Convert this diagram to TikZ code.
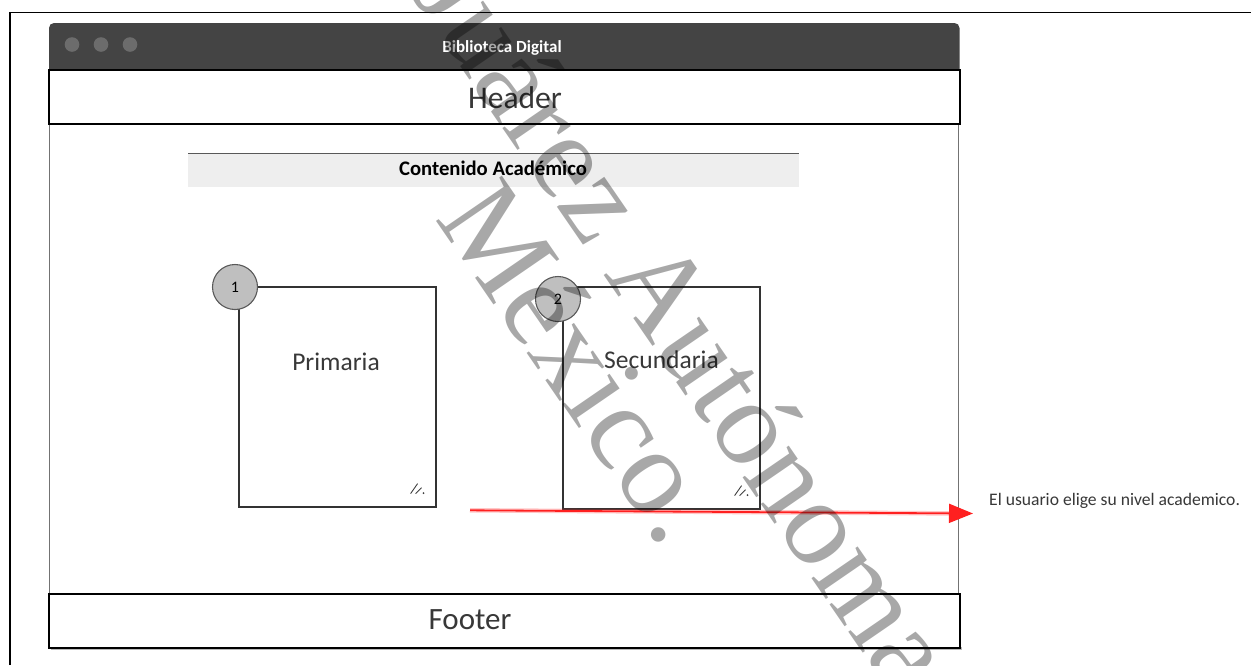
\documentclass[tikz,border=0pt]{standalone}
\usepackage{fontspec}
\setmainfont{Carlito}
\newfontfamily\wmfont{Liberation Serif}
\usetikzlibrary{arrows.meta,calc}
\definecolor{titlebar}{HTML}{444444}
\definecolor{titledot}{HTML}{6C6C6C}
\definecolor{inktext}{HTML}{383838}
\definecolor{bandfill}{HTML}{EEEEEE}
\definecolor{badgefill}{HTML}{BFBFBF}
\definecolor{flowred}{HTML}{FF2020}
\tikzset{
  frameline/.style={line width=1.6pt, draw=black},
  winbody/.style={draw=black!55, line width=1.1pt},
  bandbox/.style={draw=black, line width=1.1pt, fill=white, minimum width=911pt,
    minimum height=54pt, inner sep=0pt},
  cardbox/.style={draw=black!80, line width=1.2pt, fill=white, minimum width=197pt,
    inner sep=0pt},
  badge/.style={circle, draw=black!65, line width=1.1pt, fill=badgefill,
    minimum size=45pt, inner sep=0pt, font=\fontsize{16}{16}\selectfont},
  bigtext/.style={anchor=base, text=inktext, inner sep=0pt, font=\fontsize{31.5}{31.5}\selectfont},
  cardtext/.style={anchor=base, text=inktext, inner sep=0pt, font=\fontsize{25.5}{25.5}\selectfont},
  grip/.style={draw=black!75, line width=0.9pt},
  watermark/.style={anchor=base, rotate=-55.5, text=black, text opacity=0.34, inner sep=0pt,
    font=\wmfont\fontsize{122}{122}\selectfont},
}
\begin{document}
\begin{tikzpicture}[x=1pt,y=-1pt]
\useasboundingbox (0,0) rectangle (1251,665);
\fill[white] (0,0) rectangle (1251,665);

% page frame (only top and left edges fall inside)
\draw[frameline] (10,665) -- (10,12.3) -- (1251,12.3);

% window title bar
\fill[titlebar, rounded corners=5pt] (49,23) rectangle (959.5,80);
\foreach \dx in {72,101,130} \fill[titledot] (\dx,44.5) circle (7.3);
\node[anchor=base, text=white, inner sep=0pt, font=\bfseries\fontsize{17}{17}\selectfont]
  (title) at (502,52.3) {Biblioteca Digital};

% window body
\draw[winbody] (49.5,124) -- (49.5,594) (958.5,124) -- (958.5,594);

% header band
\node[bandbox] (header) at (504.5,97) {};
\node[bigtext] (headertxt) at (515,108.8) {Header};

% footer band with a light drop shadow
\fill[black!28] (51,647) rectangle (961.5,650);
\node[bandbox] (footer) at (504.5,621) {};
\node[bigtext, font=\fontsize{31}{31}\selectfont] (footertxt) at (470,629.5) {Footer};

% section heading bar
\fill[bandfill] (188,153) rectangle (799,187);
\draw[draw=black!65, line width=1.8pt] (188,153.5) -- (799,153.5);
\node[anchor=base, text=black, inner sep=0pt, font=\bfseries\fontsize{20.7}{20.7}\selectfont]
  (section) at (493,175.5) {Contenido Académico};

% level cards
\node[cardbox, minimum height=220pt] (primaria) at (337.5,397) {};
\node[cardbox, minimum height=222pt] (secundaria) at (661.5,398) {};
\node[cardtext] (primtxt) at (336,370) {Primaria};
\node[cardtext] (sectxt) at (661.5,368.5) {Secundaria};

% resize grips
\foreach \c in {primaria,secundaria}{
  \draw[grip] ([shift={(-26,-14)}]\c.south east) -- ([shift={(-19,-24)}]\c.south east);
  \draw[grip] ([shift={(-21,-14)}]\c.south east) -- ([shift={(-15,-20)}]\c.south east);
  \fill[black!75] ([shift={(-13,-14.5)}]\c.south east) circle (1pt);
}

% numbered badges
\node[badge] (badge1) at (235,287) {1};
\node[badge] (badge2) at (558,299) {2};

% annotation arrow
\coordinate (arrowtail) at (470,510.3);
\coordinate (arrowtip) at (973,513.5);
\draw[flowred, opacity=0.25, line width=4.5pt] (arrowtail) -- ($(arrowtip)+(-22,-0.1)$);
\draw[flowred, line width=1.8pt, -{Triangle[length=24pt,width=19pt]}] (arrowtail) -- (arrowtip);
\node[anchor=base west, text=inktext, inner sep=0pt, font=\fontsize{17.6}{17.6}\selectfont]
  (note) at (989,505) {El usuario elige su nivel academico.};

% diagonal watermark
\begin{scope}
\clip (0,0) rectangle (1251,665);
\node[watermark] (wm1) at (652,345.7) {Juárez Autónoma};
\node[watermark] (wm2) at (548.7,384.2) {México.};
\end{scope}
\end{tikzpicture}
\end{document}
